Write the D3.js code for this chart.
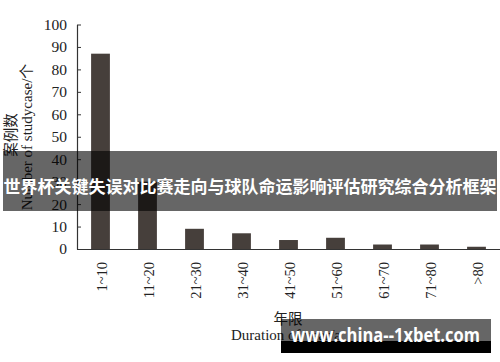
<!DOCTYPE html>
<html><head><meta charset="utf-8">
<script src="https://cdn.jsdelivr.net/npm/d3@7/dist/d3.min.js"></script>
<style>html,body{margin:0;padding:0;background:#fff;}svg{display:block;}</style>
</head><body>
<svg id="c" width="500" height="362"></svg>
<script>
const categories = ["1~10","11~20","21~30","31~40","41~50","51~60","61~70","71~80",">80"];
const values = [87, 30, 9, 7, 4, 5, 2, 2, 1];
const yTicks = [0,10,20,30,40,50,60,70,80,90,100];
const titleText = "世界杯关键失误对比赛走向与球队命运影响评估研究综合分析框架";
const watermark = "www.china--1xbet.com";
const yLabelCn = "案例数", yLabelEn = "Number of studycase/个";
const xLabelCn = "年限", xLabelEn = "Duration of year/a";

const svg = d3.select("#c");
const serif = "'Liberation Serif','Times New Roman','Noto Sans CJK SC',serif";
const x = d3.scaleBand().domain(categories).range([77, 500]).paddingInner(0.6).paddingOuter(0.3);
const y = d3.scaleLinear().domain([0, 100]).range([249, 24.5]);

// bars
svg.append("g").selectAll("rect").data(values).join("rect")
  .attr("x", (d,i) => x(categories[i]))
  .attr("y", d => y(d))
  .attr("width", x.bandwidth())
  .attr("height", d => y(0) - y(d))
  .attr("fill", "#463f3b");

// y axis
const ya = svg.append("g").attr("transform", "translate(77,0)")
  .call(d3.axisLeft(y).tickValues(yTicks).tickSizeInner(-4).tickSizeOuter(0).tickPadding(10));
ya.select(".domain").attr("stroke", "#333").attr("stroke-width", 1.2);
ya.selectAll(".tick line").attr("stroke", "#333");
ya.selectAll(".tick text").attr("font-family", serif).attr("font-size", 15.5).attr("fill", "#222");

// x axis
const xa = svg.append("g").attr("transform", "translate(0,249)")
  .call(d3.axisBottom(x).tickSize(0).tickPadding(0));
xa.select(".domain").attr("stroke", "#333").attr("stroke-width", 1.2);
xa.selectAll(".tick text")
  .attr("font-family", serif).attr("font-size", 14.5).attr("fill", "#222")
  .attr("text-anchor", "end")
  .attr("transform", "translate(1,13) rotate(-90)")
  .attr("dy", "0.38em").attr("y", 0);

// y titles
svg.append("text").attr("transform", "translate(9,135) rotate(-90)")
  .attr("text-anchor", "middle").attr("dominant-baseline", "central")
  .attr("font-family", "'Noto Sans CJK SC',serif").attr("font-size", 14.5).attr("fill", "#222")
  .text(yLabelCn);
svg.append("text").attr("transform", "translate(27,137) rotate(-90)")
  .attr("text-anchor", "middle").attr("dominant-baseline", "central")
  .attr("font-family", serif).attr("font-size", 15).attr("fill", "#222")
  .text(yLabelEn);

// x titles
svg.append("text").attr("x", 288).attr("y", 317)
  .attr("text-anchor", "middle").attr("dominant-baseline", "central")
  .attr("font-family", "'Noto Sans CJK SC',serif").attr("font-size", 14.5).attr("fill", "#222")
  .text(xLabelCn);
svg.append("text").attr("x", 231).attr("y", 340)
  .attr("font-family", serif).attr("font-size", 15).attr("fill", "#222")
  .text(xLabelEn);

// title banner
svg.append("rect").attr("x", 3).attr("y", 151).attr("width", 494).attr("height", 60)
  .attr("fill", "rgba(0,0,0,0.6)");
svg.append("text").attr("x", 3.5).attr("y", 185)
  .attr("dominant-baseline", "central")
  .attr("font-family", "'Noto Sans CJK SC',sans-serif").attr("font-weight", "bold")
  .attr("font-size", 17).attr("fill", "#fff")
  .attr("textLength", 493).attr("lengthAdjust", "spacingAndGlyphs")
  .text(titleText);

// watermark
svg.append("rect").attr("x", 281).attr("y", 319).attr("width", 210).attr("height", 22)
  .attr("fill", "rgba(0,0,0,0.6)");
svg.append("rect").attr("x", 281).attr("y", 341).attr("width", 210).attr("height", 12)
  .attr("fill", "#000");
svg.append("text").attr("x", 291).attr("y", 342)
  .attr("font-family", "'Open Sans','DejaVu Sans',sans-serif").attr("font-weight", "bold")
  .attr("font-size", 19).attr("fill", "#fff")
  .attr("textLength", 189).attr("lengthAdjust", "spacingAndGlyphs")
  .text(watermark);
</script>
</body></html>
